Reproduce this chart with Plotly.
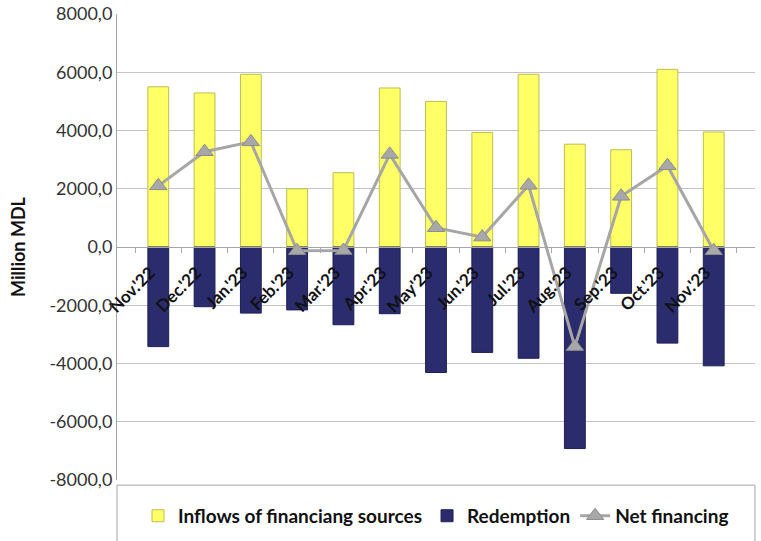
import plotly.graph_objects as go

months = ["Nov.'22", "Dec.'22", "Jan.'23", "Feb.'23", "Mar.'23", "Apr.'23", "May'23",
          "Jun.'23", "Jul.'23", "Aug.'23", "Sep.'23", "Oct.'23", "Nov.'23"]
inflows = [5500, 5290, 5930, 2000, 2550, 5460, 5000, 3930, 5930, 3530, 3340, 6100, 3950]
redemption = [-3420, -2050, -2270, -2160, -2670, -2290, -4310, -3620, -3820, -6920, -1590, -3300, -4080]
net_financing = [2100, 3270, 3610, -130, -120, 3180, 660, 340, 2120, -3420, 1740, 2790, -130]
y_ticks = [-8000, -6000, -4000, -2000, 0, 2000, 4000, 6000, 8000]

font_family = "Lato, 'Liberation Sans', Arial, sans-serif"

fig = go.Figure()

fig.add_trace(go.Bar(
    x=months, y=inflows, name="Inflows of financiang sources",
    marker=dict(color="#FFFF66", line=dict(color="#BDBD55", width=1)),
    width=0.45,
))
fig.add_trace(go.Bar(
    x=months, y=redemption, name="Redemption",
    marker=dict(color="#2B2C6E", line=dict(color="#1E1F55", width=1)),
    width=0.45,
))
fig.add_trace(go.Scatter(
    x=months, y=net_financing, name="Net financing", mode="lines+markers",
    line=dict(color="#A6A6A6", width=3),
    marker=dict(symbol="triangle-up", size=15, color="#A8A8A8",
                line=dict(color="#8C8C8C", width=1)),
))

fig.update_layout(
    width=761, height=541,
    margin=dict(l=117, r=6, t=14, b=61, autoexpand=False),
    barmode="relative",
    plot_bgcolor="white", paper_bgcolor="white",
    font=dict(family=font_family, size=15, color="#333333"),
    showlegend=True,
    legend=dict(orientation="h", x=0.5, xanchor="center", y=-0.077, yanchor="middle",
                font=dict(size=19, color="#111111", family=font_family, weight="bold"),
                traceorder="normal", bgcolor="rgba(0,0,0,0)"),
    yaxis=dict(range=[-8000, 8000], tickvals=y_ticks,
               ticktext=[("%.1f" % v).replace(".", ",") for v in y_ticks],
               showgrid=True, gridcolor="#C4C4C4", gridwidth=1,
               zeroline=False, showline=True, linecolor="#A6A6A6",
               ticks="", automargin=False,
               title=dict(text="Million MDL",
                          font=dict(size=18, color="#111111", weight="bold"),
                          standoff=19),
               tickfont=dict(size=18, color="#333333")),
    xaxis=dict(anchor="free", position=0.5, showline=True, linecolor="#A6A6A6",
               ticks="outside", tickson="boundaries", ticklen=5, tickcolor="#A6A6A6",
               tickangle=-45, showgrid=False, automargin=False,
               ticklabelstandoff=8, ticklabelshift=-8,
               tickfont=dict(size=17, color="#111111", family=font_family, weight="bold")),
    shapes=[dict(type="rect", xref="paper", yref="paper", x0=0, x1=1, y0=-0.011, y1=-0.2,
                 line=dict(color="#A6A6A6", width=1), layer="above")],
)

fig.write_html("out.html", post_script="document.body.style.margin='0';",
               config={"displayModeBar": False})
